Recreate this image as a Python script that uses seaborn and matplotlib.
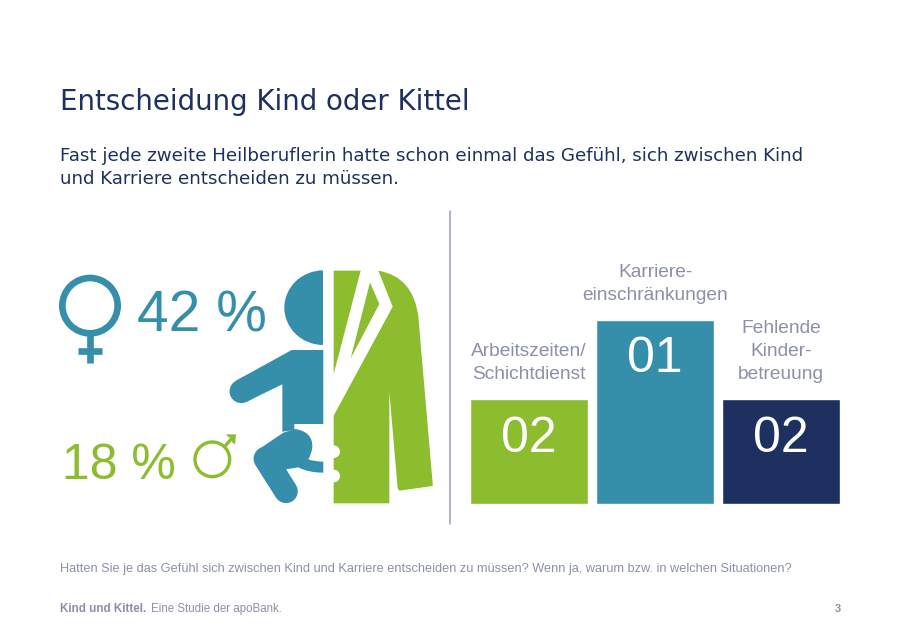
import matplotlib
matplotlib.use("Agg")
import matplotlib.pyplot as plt
from matplotlib.patches import Circle, Ellipse, PathPatch, Polygon, Rectangle
from matplotlib.path import Path
import pandas as pd
import seaborn as sns

# --- data -------------------------------------------------------------
categories = ["Arbeitszeiten/\nSchichtdienst", "Karriere-\neinschränkungen", "Fehlende\nKinder-\nbetreuung"]
ranks = ["02", "01", "02"]
podium_heights = [57, 100, 57]
share_women = "42 %"
share_men = "18 %"
title = "Entscheidung Kind oder Kittel"
subtitle = ["Fast jede zweite Heilberuflerin hatte schon einmal das Gefühl, sich zwischen Kind",
            "und Karriere entscheiden zu müssen."]
question = "Hatten Sie je das Gefühl sich zwischen Kind und Karriere entscheiden zu müssen? Wenn ja, warum bzw. in welchen Situationen?"
footer_bold = "Kind und Kittel."
footer_regular = "Eine Studie der apoBank."
page = "3"

TEAL, GREEN, NAVY, GREY = "#358FAB", "#8BBD2F", "#1D3060", "#8B90A8"

sns.set_theme(style="white")
plt.rcParams["font.family"] = ["Liberation Sans", "DejaVu Sans"]

W, H = 900, 637
fig = plt.figure(figsize=(W / 100, H / 100), dpi=100, facecolor="white")

# --- page layer in pixel coordinates -----------------------------------
page_ax = fig.add_axes([0, 0, 1, 1])
page_ax.set_xlim(0, W)
page_ax.set_ylim(H, 0)
page_ax.axis("off")

def T(x, y):
    """Position in the illustration's drawing grid -> page pixels."""
    return 50 + x / 3, 250 + y / 3

def shape(verts, codes, color, z=2):
    page_ax.add_patch(PathPatch(Path([T(*v) for v in verts], codes), fc=color, ec="none", zorder=z))

M, L, C = Path.MOVETO, Path.LINETO, Path.CURVE3

def poly(pts, color, z=2):
    page_ax.add_patch(Polygon([T(*p) for p in pts], closed=True, fc=color, ec="none", zorder=z))

def stroke(p, q, width, color, cap="round", z=2):
    (x0, y0), (x1, y1) = T(*p), T(*q)
    page_ax.plot([x0, x1], [y0, y1], color=color, lw=width / 3 * 0.72, solid_capstyle=cap, zorder=z)

# baby (left half)
cx, cy = T(820, 173)
head = Ellipse((cx, cy), 2 * 117 / 3, 2 * 112 / 3, fc=TEAL, ec="none", zorder=2)
page_ax.add_patch(head)
head.set_clip_path(Rectangle((cx - 50, cy - 50), 50, 100, transform=page_ax.transData))
poly([(820, 300), (725, 300), (558, 392), (590, 455), (697, 403), (697, 545), (733, 540), (733, 522), (820, 522)], TEAL)
stroke((574, 424), (600, 410), 71, TEAL)
shape([(626, 598), (700, 548), (735, 537), (788, 545), (787, 590), (786, 610), (775, 628),
       (795, 635), (820, 635), (820, 668), (775, 668), (745, 652), (708, 658), (660, 660), (626, 650)],
      [M, L, L, C, C, C, C, C, C, L, C, C, L, L, L], TEAL)
stroke((646, 626), (708, 724), 71, TEAL)

# jacket (right half)
poly([(851, 62), (932, 62), (851, 372)], GREEN)
poly([(960, 97), (988, 162), (902, 325)], GREEN)
shape([(985, 62), (1090, 80), (1105, 200), (1148, 700), (1148, 708), (1048, 722), (1043, 715),
       (1018, 425), (1018, 760), (851, 760), (851, 497), (1028, 170), (985, 62)],
      [M, C, C, L, L, L, L, L, L, L, L, L, L], GREEN)
for by in (605, 678):
    page_ax.add_patch(Circle(T(851, by), 19 / 3, fc="white", ec="none", zorder=2.2))

# venus symbol
page_ax.add_patch(Circle(T(120, 167), 83 / 3, fc="none", ec=TEAL, lw=20 / 3 * 0.72, zorder=2))
stroke((121, 255), (121, 338), 20, TEAL, cap="butt")
stroke((85, 302), (157, 302), 20, TEAL, cap="butt")

# mars symbol
page_ax.add_patch(Circle(T(487, 628), 52 / 3, fc="none", ec=GREEN, lw=10 / 3 * 0.72, zorder=2))
stroke((522, 592), (548, 562), 10, GREEN, cap="butt")
poly([(528, 553), (558, 553), (555, 584), (546, 576), (546, 563), (536, 562)], GREEN)

page_ax.text(137, 331, share_women, color=TEAL, fontsize=41, va="baseline", ha="left")
page_ax.text(62, 479, share_men, color=GREEN, fontsize=36, va="baseline", ha="left")

# separator
page_ax.plot([450, 450], [211, 524], color="#9A9FB2", lw=1.1)

# texts
WIDE = ["DejaVu Sans"]
page_ax.text(60, 109.5, title, color=NAVY, fontsize=19.9, family=WIDE, va="baseline")
page_ax.text(60, 161, subtitle[0], color=NAVY, fontsize=13.17, family=WIDE, va="baseline")
page_ax.text(60, 184.5, subtitle[1], color=NAVY, fontsize=13.17, family=WIDE, va="baseline")
page_ax.text(60, 572, question, color=GREY, fontsize=9.15, va="baseline")
page_ax.text(60, 612, footer_bold, color=GREY, fontsize=8.4, fontweight="bold", va="baseline")
page_ax.text(151, 612, footer_regular, color=GREY, fontsize=8.3, va="baseline")
page_ax.text(841, 612, page, color=GREY, fontsize=7.9, fontweight="bold", ha="right", va="baseline")

# --- podium chart ------------------------------------------------------
bar_left, bar_right, bar_bottom, bar_top = 466, 844, 503.5, 319.5
ax = fig.add_axes([bar_left / W, (H - bar_bottom) / H, (bar_right - bar_left) / W, (bar_bottom - bar_top) / H])
ax.patch.set_alpha(0)
df = pd.DataFrame({"category": categories, "height": podium_heights})
sns.barplot(data=df, x="category", y="height", hue="category", ax=ax, legend=False,
            palette=[GREEN, TEAL, NAVY], saturation=1, width=118 / 126, order=categories)
ax.set_ylim(0, 100)
ax.set_xlim(-0.5, 2.5)
ax.axis("off")
for i, (cat, rank, h) in enumerate(zip(categories, ranks, podium_heights)):
    ax.annotate(rank, (i, h), xytext=(0, -35 * 0.72), textcoords="offset points",
                ha="center", va="center_baseline", color="white", fontsize=36, annotation_clip=False)
    ax.annotate(cat, (i, h), xytext=(0, 15.5 * 0.72), textcoords="offset points",
                ha="center", va="bottom", color=GREY, fontsize=13.8, linespacing=1.45,
                annotation_clip=False)

fig.savefig("out.png", dpi=100, facecolor="white")
